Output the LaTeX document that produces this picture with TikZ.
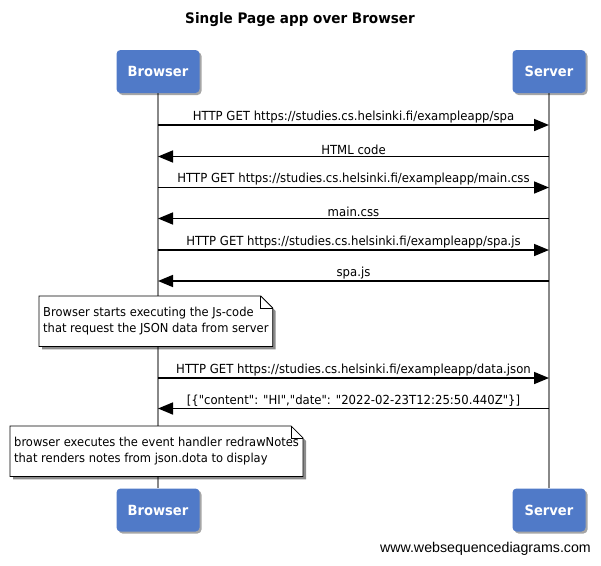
\documentclass[tikz,border=0pt]{standalone}
\usepackage{fontspec}
\setmainfont{DejaVu Sans}[FakeStretch=0.935, Ligatures=TeXOff]
\newfontfamily\footfont{Liberation Sans}
\usetikzlibrary{arrows.meta,shadows,backgrounds}
\definecolor{actorblue}{RGB}{80,122,200}
\definecolor{lifegray}{RGB}{136,136,136}
\begin{document}
\begin{tikzpicture}[x=1pt,y=-1pt,
  actor/.style={fill=actorblue, rounded corners=4pt, minimum width=83pt, minimum height=43pt,
    text=white, font=\fontsize{14}{17}\selectfont\bfseries, inner sep=0pt,
    drop shadow={shadow xshift=2pt, shadow yshift=-2pt, opacity=0.35, fill=black}},
  lifeline/.style={draw=lifegray, line width=1.8pt},
  msg/.style={draw=black, line width=1.6pt, -{Triangle[length=15pt,width=12pt]}},
  msglabel/.style={above, inner sep=1.2pt, font=\fontsize{12.5}{15}\selectfont},
  notetext/.style={anchor=north west, align=left, inner xsep=4pt, inner ysep=0pt,
    minimum height=50pt, font=\fontsize{12.3}{16}\selectfont},
  notebox/.style={draw=black, line width=0.8pt, fill=white,
    drop shadow={shadow xshift=3pt, shadow yshift=-3pt, opacity=0.45, fill=black}},
]
\useasboundingbox (0,0) rectangle (601,565);

\node[font=\fontsize{14.5}{17}\selectfont\bfseries] (title) at (300,20) {Single Page app over Browser};

\node[actor] (bt) at (158,71.5) {Browser};
\node[actor, minimum width=73pt] (st) at (549,71.5) {Server};
\node[actor] (bb) at (158,510) {Browser};
\node[actor, minimum width=73pt] (sb) at (549,510) {Server};

\begin{scope}[on background layer]
\draw[lifeline] (bt.south) -- (bb.north);
\draw[lifeline] (st.south) -- (sb.north);
\end{scope}

% messages
\coordinate (m1b) at (158,125);   \coordinate (m1s) at (549,125);
\coordinate (m2b) at (158,156.5); \coordinate (m2s) at (549,156.5);
\coordinate (m3b) at (158,187.5); \coordinate (m3s) at (549,187.5);
\coordinate (m4b) at (158,218.5); \coordinate (m4s) at (549,218.5);
\coordinate (m5b) at (158,250);   \coordinate (m5s) at (549,250);
\coordinate (m6b) at (158,281);   \coordinate (m6s) at (549,281);
\coordinate (m7b) at (158,378);   \coordinate (m7s) at (549,378);
\coordinate (m8b) at (158,408.5); \coordinate (m8s) at (549,408.5);

\draw[msg] (m1b) -- node[msglabel] (l1) {HTTP GET https://studies.cs.helsinki.fi/exampleapp/spa} (m1s);
\draw[msg] (m2s) -- node[msglabel] (l2) {HTML code} (m2b);
\draw[msg] (m3b) -- node[msglabel] (l3) {HTTP GET https://studies.cs.helsinki.fi/exampleapp/main.css} (m3s);
\draw[msg] (m4s) -- node[msglabel] (l4) {main.css} (m4b);
\draw[msg] (m5b) -- node[msglabel] (l5) {HTTP GET https://studies.cs.helsinki.fi/exampleapp/spa.js} (m5s);
\draw[msg] (m6s) -- node[msglabel] (l6) {spa.js} (m6b);
\draw[msg] (m7b) -- node[msglabel] (l7) {HTTP GET https://studies.cs.helsinki.fi/exampleapp/data.json} (m7s);
\draw[msg] (m8s) -- node[msglabel] (l8) {[\{"content": "HI","date": "2022-02-23T12:25:50.440Z"\}]} (m8b);

% notes
\node[notetext] (n1) at (39,296) {Browser starts executing the Js-code\\that request the JSON data from server};
\node[notetext] (n2) at (10,426) {browser executes the event handler redrawNotes\\that renders notes from json.dota to display};

\begin{scope}[on background layer]
\foreach \n in {n1,n2}{
  \draw[notebox] (\n.north west) -- ([xshift=-12pt]\n.north east) -- ([yshift=-12pt]\n.north east)
    -- (\n.south east) -- (\n.south west) -- cycle;
  \draw[line width=0.8pt] ([xshift=-12pt]\n.north east) |- ([yshift=-12pt]\n.north east);
}
\end{scope}

\node[anchor=east, font=\footfont\fontsize{14.2}{17}\selectfont, inner sep=0pt] (foot) at (591,549) {www.websequencediagrams.com};
\end{tikzpicture}
\end{document}
